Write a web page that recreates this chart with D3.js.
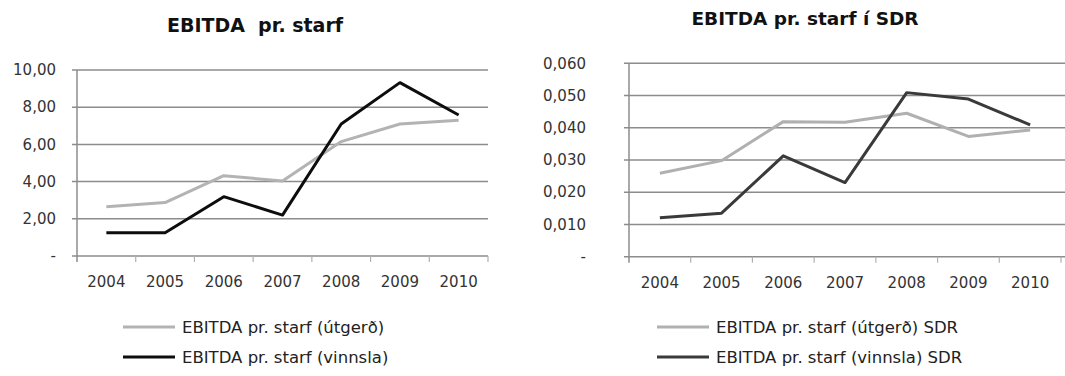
<!DOCTYPE html>
<html>
<head>
<meta charset="utf-8">
<script src="https://cdn.jsdelivr.net/npm/d3@7"></script>
<style>
  html, body { margin: 0; padding: 0; background: #fff; }
  svg { display: block; }
  text { font-family: "DejaVu Sans", sans-serif; fill: #222; }
</style>
</head>
<body>
<svg id="chart" width="1065" height="376"></svg>
<script>
// Years on the category axis
const years = ["2004", "2005", "2006", "2007", "2008", "2009", "2010"];

// EBITDA per employee (left panel)
const utgerd  = [2.65, 2.87, 4.32, 4.03, 6.15, 7.10, 7.30];
const vinnsla = [1.25, 1.25, 3.19, 2.20, 7.10, 9.32, 7.58];

// EBITDA per employee in SDR (right panel)
const utgerdSDR  = [0.0259, 0.0298, 0.0419, 0.0417, 0.0445, 0.0373, 0.0393];
const vinnslaSDR = [0.0121, 0.0135, 0.0313, 0.0230, 0.0509, 0.0489, 0.0409];

// Value-axis ticks
const leftTicks  = [0, 2, 4, 6, 8, 10];
const rightTicks = [0, 0.01, 0.02, 0.03, 0.04, 0.05, 0.06];

const leftLabels  = ["-", "2,00", "4,00", "6,00", "8,00", "10,00"];
const rightLabels = ["-", "0,010", "0,020", "0,030", "0,040", "0,050", "0,060"];

const svg = d3.select("#chart");

function panel(cfg) {
  const g = svg.append("g");
  const x = d3.scaleBand().domain(years).range([cfg.x0, cfg.x1]);
  const y = d3.scaleLinear().domain(cfg.domain).range([cfg.yBottom, cfg.yTop]);

  // title
  g.append("text")
    .attr("x", cfg.titleX).attr("y", cfg.titleY)
    .attr("text-anchor", "middle")
    .style("font-weight", "bold").style("font-size", cfg.titleSize + "px")
    .style("white-space", "pre")
    .style("fill", "#111")
    .text(cfg.title);

  // horizontal gridlines (with small outward ticks)
  g.selectAll("line.grid").data(cfg.ticks).join("line")
    .attr("class", "grid")
    .attr("x1", cfg.x0 - 5).attr("x2", cfg.gridEnd)
    .attr("y1", d => y(d)).attr("y2", d => y(d))
    .attr("stroke", "#8c8c8c").attr("stroke-width", 1.5);

  // value axis
  g.append("line")
    .attr("x1", cfg.x0).attr("x2", cfg.x0)
    .attr("y1", y(cfg.domain[1])).attr("y2", y(0) + 6)
    .attr("stroke", "#8c8c8c").attr("stroke-width", 1.5);

  g.selectAll("text.ylab").data(cfg.ticks).join("text")
    .attr("class", "ylab")
    .attr("x", cfg.labelRight).attr("y", d => y(d))
    .attr("dy", "0.35em").attr("text-anchor", "end")
    .style("font-size", "15px").style("fill", "#333")
    .text((d, i) => cfg.labels[i]);

  // category axis ticks at band boundaries
  const bounds = years.map(d => x(d)).concat([x(years[years.length - 1]) + x.bandwidth()]);
  g.selectAll("line.xtick").data(bounds.slice(1)).join("line")
    .attr("class", "xtick")
    .attr("x1", d => d).attr("x2", d => d)
    .attr("y1", y(0)).attr("y2", y(0) + 6)
    .attr("stroke", "#b0b0b0").attr("stroke-width", 1.2);

  g.selectAll("text.xlab").data(years).join("text")
    .attr("class", "xlab")
    .attr("x", d => x(d) + x.bandwidth() / 2).attr("y", y(0) + 31)
    .attr("text-anchor", "middle")
    .style("font-size", "15px").style("fill", "#333")
    .text(d => d);

  const line = d3.line()
    .x((d, i) => x(years[i]) + x.bandwidth() / 2)
    .y(d => y(d));

  cfg.series.forEach(s => {
    g.append("path").datum(s.values)
      .attr("d", line)
      .attr("fill", "none")
      .attr("stroke", s.color).attr("stroke-width", 3)
      .attr("stroke-linejoin", "round");
  });

  // legend
  cfg.series.forEach((s, i) => {
    const ly = cfg.legendY + i * 30;
    g.append("line")
      .attr("x1", cfg.legendX).attr("x2", cfg.legendX + 52)
      .attr("y1", ly).attr("y2", ly)
      .attr("stroke", s.color).attr("stroke-width", 3);
    g.append("text")
      .attr("x", cfg.legendX + 59).attr("y", ly)
      .attr("dy", "0.35em")
      .style("font-size", "16.5px").style("fill", "#222")
      .text(s.name);
  });
}

panel({
  title: "EBITDA  pr. starf", titleX: 255, titleY: 32, titleSize: 19,
  x0: 77, x1: 488, gridEnd: 488,
  domain: [0, 10], yBottom: 256, yTop: 70,
  ticks: leftTicks, labels: leftLabels, labelRight: 56,
  legendX: 123, legendY: 327,
  series: [
    { name: "EBITDA pr. starf (útgerð)", values: utgerd, color: "#b3b3b3" },
    { name: "EBITDA pr. starf (vinnsla)", values: vinnsla, color: "#0d0d0d" }
  ]
});

panel({
  title: "EBITDA pr. starf í SDR", titleX: 805, titleY: 25, titleSize: 18.5,
  x0: 629, x1: 1061, gridEnd: 1065,
  domain: [0, 0.06], yBottom: 256.7, yTop: 63.3,
  ticks: rightTicks, labels: rightLabels, labelRight: 586,
  legendX: 657, legendY: 327,
  series: [
    { name: "EBITDA pr. starf (útgerð) SDR", values: utgerdSDR, color: "#b0b0b0" },
    { name: "EBITDA pr. starf (vinnsla) SDR", values: vinnslaSDR, color: "#3a3a3a" }
  ]
});
</script>
</body>
</html>
